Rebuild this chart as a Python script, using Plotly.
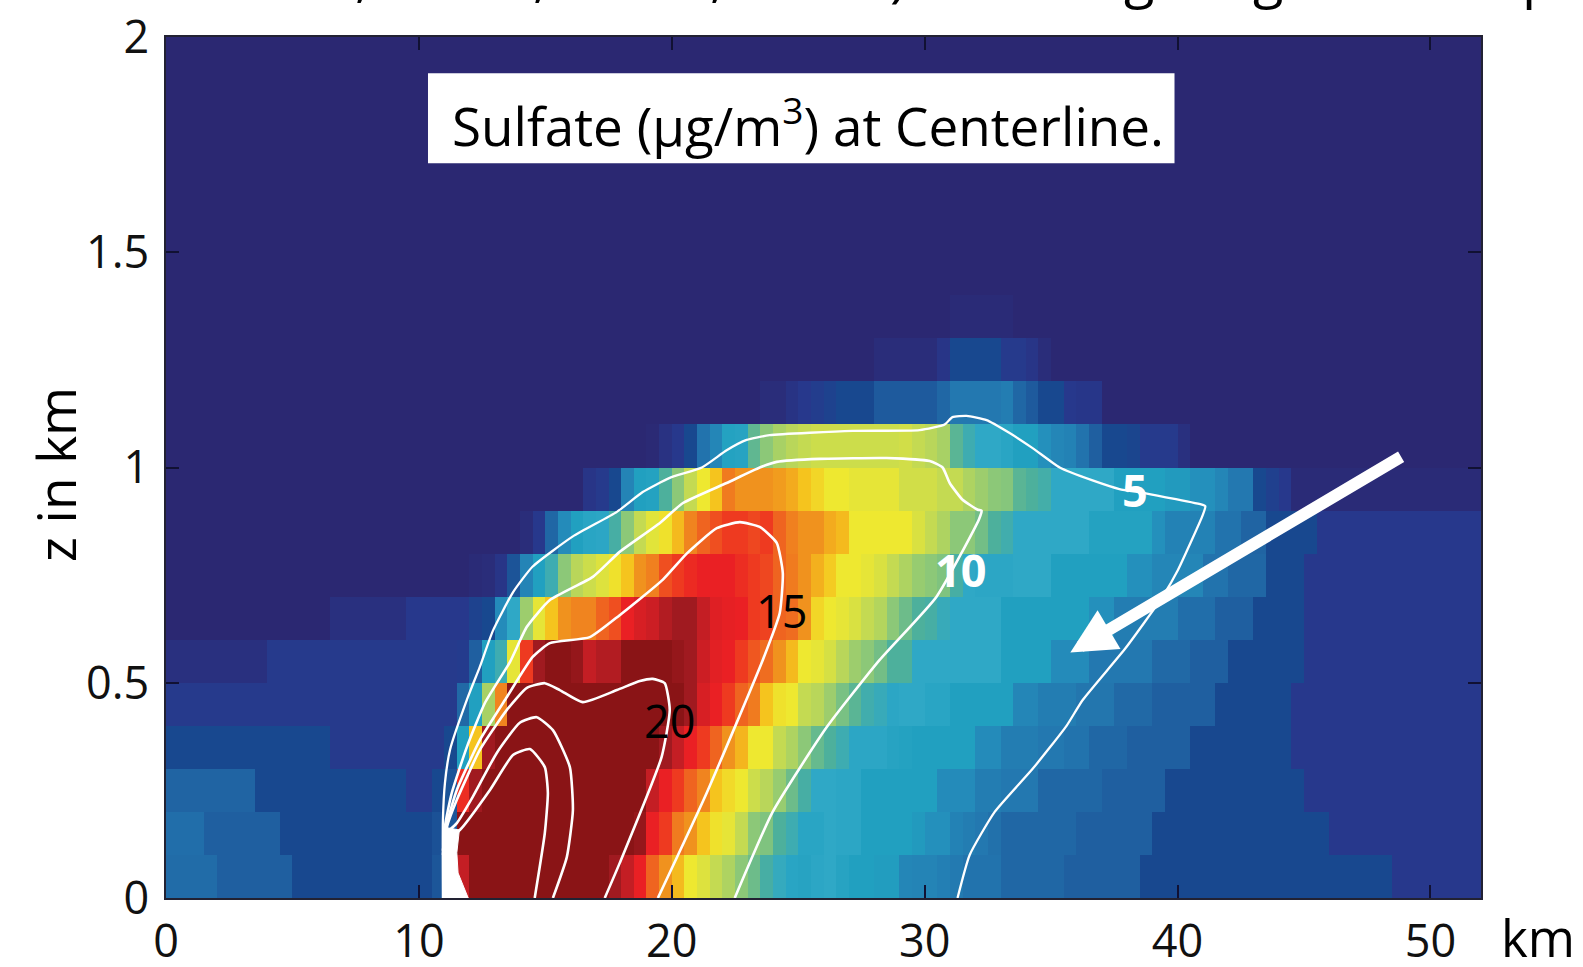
import plotly.graph_objects as go

# ---- data: sulfate per 0.5 km column (104 columns) and 0.1 km row ----
x_edges = [i * 0.5 for i in range(105)]
z_edges = [i * 0.1 for i in range(21)]

row_00 = [3.5]*4+[3.0]*6+[2.0]*11+[2.6,3.0,16]+[20]*11+[17,16,15,13,12,11.2,10,9.6,9,8.6,8,7.5,6.8,6.2,5.8,5.7,5.9,6,5.7,5.5,5.5,5.4,5.4,4.6,4.5,4.5,4.3,4.1,3.8,3.8,3.8,3.3,3.3,3.3,3.3,3.3]+[3]*6+[2]*20+[1]*7
row_01 = [3.6]*3+[3]*6+[2]*12+[2.4,2.6]+[20]*13+[18,17.5,15,14,12.5,12,11,10.2,9.8,9,8,7.8,7,6.5,5.8,5.8,6,5.9,5.9,5.5,5.5,5.5,5.5,5.3,5,5,4.4,4.2,4,3.7]+[3.3]*6+[3]*6+[2]*14+[1]*12
row_02 = [3.2]*7+[2]*12+[1.1]*2+[2,2.5,14.5,17]+[20]*13+[16,15,14,13,12.3,11,10.4,10,9.2,8.8,8.2,7.5,6.8,6,6,5.9,5.9]+[5.5]*6+[4.8]*3+[4.2]*2+[4]*3+[3.3]*5+[3]*5+[2]*11+[1]*14
row_03 = [2]*13+[1.1]*9+[2,5.5,11,17]+[20]*13+[17,16,15,14,13,12,11.3,10,10,9,8.6,8,7.4,7,6.5,5.9,5.9,5.9,5.7,5.6]+[5.5]*5+[4.8]*2+[4.2]*3+[4]*2+[3.8]*2+[3.3]*3+[3]*5+[2]*8+[1]*15
row_04 = [1.1]*23+[3.4,5.5,8.5,12.3]+[20]*13+[19,17,15.5,15,14,13,12.5,11,10.2,10,9,8.8,8.3,7.7,7.2,6.6,6.3,5.9,6,6,5.8,5.8]+[5.5]*5+[4.6]*2+[4.2]*3+[3.9]*3+[3.4]*3+[3]*5+[2]*6+[1]*15
row_05 = [0.5]*8+[1.1]*15+[1.2,3,5.5,6.5,9.8,14,17]+[18,18,17.5,16,16.5,16.5,18,18,18,18]+[17.5,17,15.8,15.2,15,14,13.3,12.8,12,11.2,10,9.8,9.4,8.8,8.3,8,7.6,7,7]+[6]*7+[5.5]*4+[4.8]*3+[4]*5+[3.4]*3+[3]*3+[2]*6+[1]*14
row_06 = [0]*13+[0.5]*6+[1]*5+[1.6,2,4.8,6,8.3,9.8,11,12,12.3,12.3,13,13.5]+[15,15.5,15.8,16.5,17,17,16,15.3,15.1,15,14,13.8,13,12.8,12,10.5,10,9.8,9.5,9,8.7,8,7.5,7,6.8,6.3,6,6,6,6]+[5.5]*7+[5]*2+[4.2]*5+[3.6]*3+[3]*3+[2]*4+[1]*14
row_07 = [0]*24+[0.2,0.3,0.8,2.5,4.5,5.5,6.5,8,8.8,9.2,9.6,10.2]+[11,12,12.4,13.5,14,14.6,15,15,15,14.5,14,13.7,13,12.5,12,11.4,10.8,10,10,9.8,9.5,9,8.6,8.2,8,7.8,6.8,6]+[5.9]*3+[6]*3+[5.5]*6+[5]*2+[4.6]*4+[3.8]*2+[3.3]*3+[2]*3+[1]*14
row_08 = [0]*28+[0.3,1,3.3,4.8,5.5,5.8,5.9,6.8]+[8,9,9.7,10.2,11.2,12.3,13,13.5,14,14,13.7,14,13,12.4,12,12,11.5,11.2]+[10]*5+[9.5,9,8.6,8,8,7.6,7,6.6]+[6]*6+[5.6]*5+[5]+[4.4]*4+[3.8]*2+[3.2]*2+[2]*4+[1]*13
row_09 = [0]*33+[0.8,1.1,2]+[4.5,5.5,5.6,7,8,9,10,11,12.5,12,12,12,11.8,11.5,11,10.5,10,10]+[9.8]*4+[9.3]*3+[9,9,8.6,8.3,8,7.9,7.2,7,6.7,6]+[6]*4+[5.5]*4+[5.3]*2+[5]*2+[4.6]+[4]*2+[2,1.5,1]+[0.2]*15
row_10 = [0]*38+[0.1,0.6,1,2,3.8,4.6,5.6,5.7,7.3,8,8.5,8.8,9]+[9.2]*7+[9.3,9,8.8,8.5,7.2,6.5,6,6,5.8,5.5,5.5,5,4.6,4.4,3.8,3]+[2,2,1.8,1.1,1.1,1.1,0.5]+[0]*23
row_11 = [0]*47+[0.3,0.3,0.7,1,1.3,1.6,2,2,2]+[2.8]*5+[3.3,4,4,4,4,4.2,3.3,2.8,2,2,1,0.9,0.9]+[0]*30
row_12 = [0]*56+[0.3]*5+[0.8,2,2,2,2,1.1,1.1,0.8,0.3]+[0]*34
row_13 = [0]*62+[0.2]*5+[0]*37
row_14 = [0]*104
row_15 = [0]*104
row_16 = [0]*104
row_17 = [0]*104
row_18 = [0]*104
row_19 = [0]*104
rows = [row_00,row_01,row_02,row_03,row_04,row_05,row_06,row_07,row_08,row_09,
        row_10,row_11,row_12,row_13,row_14,row_15,row_16,row_17,row_18,row_19]
for n, r in enumerate(rows):
    assert len(r) == 104, (n, len(r))

# ---- contour lines (km, z) ----
c5_x = [31.30,31.78,32.77,34.27,35.61,36.25,37.94,39.41,40.0,41.0,41.1,41.0,38.74,37.7,36.64,35.34,34.27,33.36,32.45,31.66,31.1,30.79,29.8,27.15,23.87,22.96,22.17,21.19,19.92,18.85,17.83,16.09,14.5,13.72,12.92,12.41,11.94,11.23,11.03,10.95,10.95]
c5_z = [0,0.10,0.20,0.30,0.40,0.46,0.58,0.70,0.76,0.89,0.91,0.913,0.94,0.95,0.97,1.0,1.045,1.08,1.11,1.12,1.117,1.10,1.087,1.085,1.075,1.064,1.04,1.0,0.976,0.943,0.897,0.84,0.77,0.71,0.62,0.537,0.467,0.344,0.267,0.18,0]
c10_x = [22.49,23.99,26.13,28.22,30.47,32.15,32.25,32.1,31.5,30.99,30.71,30.2,28.5,25.85,24.15,23.48,22.17,20.43,19.53,17.94,16.88,15.18,14.27,13.6,12.61,11.9,11.3,11.03,11.0]
c10_z = [0,0.2,0.397,0.553,0.70,0.88,0.90,0.902,0.925,0.964,1.0,1.015,1.022,1.02,1.013,1.0,0.964,0.917,0.871,0.804,0.746,0.692,0.63,0.548,0.453,0.351,0.244,0.165,0]
c15_x = [19.45,21.38,23.6,24.27,24.39,24.15,23.48,22.69,21.78,20.59,19.64,17.94,16.76,15.18,14.5,13.48,12.41,11.5,11.11,10.95]
c15_z = [0,0.244,0.553,0.662,0.755,0.825,0.862,0.873,0.859,0.80,0.739,0.657,0.606,0.592,0.56,0.467,0.367,0.251,0.174,0.11]
c20_x = [17.35,17.94,19.6,19.92,19.72,19.25,18.74,17.83,16.48,15.57,14.98,14.27,13.48,12.41,11.5,11.11,10.95]
c20_z = [0,0.081,0.328,0.437,0.499,0.509,0.504,0.483,0.455,0.483,0.499,0.488,0.437,0.344,0.228,0.165,0.10]
c25_x = [15.3,15.85,16.09,15.97,15.3,14.66,13.99,13.08,12.13,11.5,11.11]
c25_z = [0,0.095,0.204,0.304,0.39,0.42,0.407,0.337,0.235,0.174,0.153]
c30_x = [14.58,14.98,15.1,14.98,14.39,13.72,12.81,11.62,11.11]
c30_z = [0,0.151,0.244,0.304,0.346,0.332,0.251,0.158,0.139]
contours = [(c5_x,c5_z,2.3),(c10_x,c10_z,2.6),(c15_x,c15_z,2.6),(c20_x,c20_z,2.6),(c25_x,c25_z,2.6),(c30_x,c30_z,2.6)]

# white blob where the contours bunch up at the source
blob_x = [10.95,10.95,11.6,11.5,11.55,11.95,10.95]
blob_z = [0,0.165,0.158,0.105,0.058,0,0]

# tick labels
x_ticks = [0,10,20,30,40,50]
z_ticks = [0,0.5,1,1.5,2]
z_tick_labels = ["0","0.5","1","1.5","2"]

# contour labels
label_text = ["5","10","15","20"]
label_x = [38.3,31.4,24.35,19.92]
label_z = [0.95,0.762,0.669,0.413]
label_color = ["white","white","black","black"]
label_bold = [True,True,False,False]

colorscale = [
    [0/20,"#2B2872"],[1/20,"#27388C"],[2/20,"#18488F"],[3/20,"#1F5FA0"],[4/20,"#2378B0"],
    [5/20,"#2490BC"],[5.5/20,"#21A0C0"],[6/20,"#2FA8C6"],[7/20,"#4DB09C"],[8/20,"#8CC878"],
    [9/20,"#C4DA52"],[10/20,"#EEE830"],[11/20,"#F5C41E"],[12/20,"#F0921E"],[13/20,"#EF6420"],
    [14/20,"#EE3A20"],[15/20,"#EA2024"],[16/20,"#C41E24"],[17/20,"#A01A20"],[18/20,"#8A1416"],[1,"#8A1416"],
]

FONT = "Open Sans"
fig = go.Figure()
fig.add_trace(go.Heatmap(x=x_edges, y=z_edges, z=rows, zmin=0, zmax=20,
                         colorscale=colorscale, showscale=False, hoverinfo="skip"))
fig.add_trace(go.Scatter(x=blob_x, y=blob_z, mode="lines", fill="toself", fillcolor="white",
                         line=dict(color="white", width=1), hoverinfo="skip", showlegend=False))
for cx, cz, w in contours:
    fig.add_trace(go.Scatter(x=cx, y=cz, mode="lines", line=dict(color="white", width=w, shape="spline", smoothing=0.5),
                             hoverinfo="skip", showlegend=False))

fig.add_shape(type="rect", xref="x", yref="y", x0=10.36, x1=39.88, y0=1.707, y1=1.916,
              fillcolor="white", line=dict(width=0))

ann = [
    dict(x=25.4, y=1.80, xref="x", yref="y", showarrow=False,
         text="Sulfate (μg/m<sup>3</sup>) at Centerline.", font=dict(family=FONT, size=53, color="black")),
    dict(x=(1538-166)/1315, y=(898-937)/861, xref="paper", yref="paper", xanchor="center", yanchor="middle",
         showarrow=False, text="km", font=dict(family=FONT, size=51, color="black")),
    dict(x=35.76, y=0.57, ax=48.9, ay=1.027, xref="x", yref="y", axref="x", ayref="y", text="",
         showarrow=True, arrowhead=2, arrowsize=0.75, arrowwidth=12, arrowcolor="white"),
]
for t, lx, lz, c, b in zip(label_text, label_x, label_z, label_color, label_bold):
    ann.append(dict(x=lx, y=lz, xref="x", yref="y", text=f"<b>{t}</b>" if b else t, showarrow=False,
                    font=dict(family=FONT, size=45, color=c)))
# "z in km" rotated title
ann.append(dict(x=(55-166)/1315, y=(898-475)/861, xref="paper", yref="paper", xanchor="center", yanchor="middle",
                text="z in km", showarrow=False, textangle=-90, font=dict(family=FONT, size=53, color="black")))
# descenders of the line of text cut off at the top of the picture
for t, px in [(",",362),(",",540),(",",717),(")",898),("g",1139),("g",1268),("p",1539)]:
    ann.append(dict(x=(px-166)/1315, y=1.0267, xref="paper", yref="paper", xanchor="center", yanchor="bottom", text=t,
                    showarrow=False, font=dict(family=FONT, size=56, color="black")))
fig.update_layout(annotations=ann)

axis = dict(showgrid=False, zeroline=False, ticks="inside", ticklen=13, tickwidth=1.5, tickcolor="#111133",
            showline=True, linewidth=1.5, linecolor="#222233", mirror="ticks", layer="above traces",
            tickfont=dict(family=FONT, size=45, color="#111111"))
fig.update_xaxes(**axis, range=[0,52], tickvals=x_ticks, ticklabelstandoff=3)
fig.update_yaxes(**axis, range=[0,2], tickvals=z_ticks, ticktext=z_tick_labels, ticklabelstandoff=6)
fig.update_layout(width=1583, height=967, margin=dict(l=166,r=102,t=37,b=69,pad=0,autoexpand=False),
                  paper_bgcolor="white", plot_bgcolor="#2B2872", showlegend=False)
fig.write_html("out.html", config={"displayModeBar": False},
               post_script="document.body.style.margin='0';document.body.style.overflow='hidden';")
